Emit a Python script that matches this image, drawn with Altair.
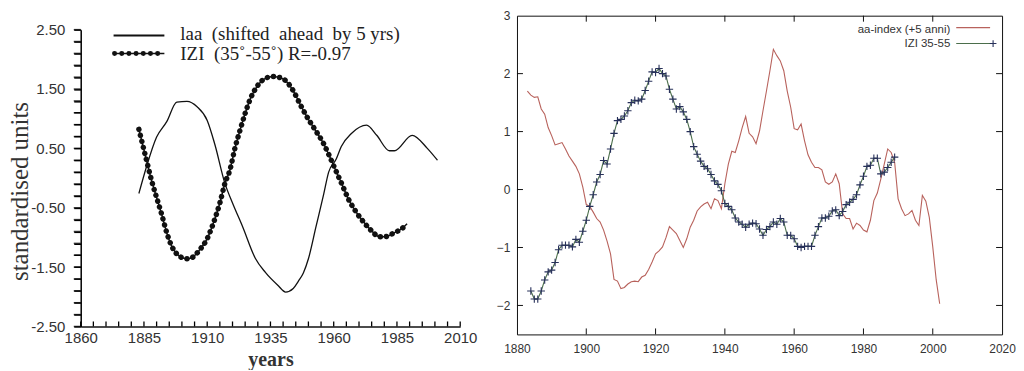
import altair as alt
import pandas as pd

# ---------------- LEFT PANEL DATA ----------------
LEFT_IZI_YEARS = [1883, 1886, 1888, 1890, 1892, 1894, 1896, 1898, 1900, 1902, 1904, 1907,
                  1910, 1912, 1915, 1917, 1919, 1921, 1923, 1925, 1927, 1930, 1933, 1936,
                  1938, 1941, 1944, 1947, 1950, 1953, 1956, 1958, 1961, 1963, 1966, 1969,
                  1972, 1975, 1978, 1980, 1984, 1987, 1989]
LEFT_IZI_VALUES = [0.82, 0.30, -0.04, -0.33, -0.61, -0.92, -1.15, -1.28, -1.34, -1.36, -1.34, -1.21,
                   -1.02, -0.81, -0.42, -0.09, 0.14, 0.51, 0.81, 1.09, 1.33, 1.56, 1.68, 1.71,
                   1.70, 1.64, 1.47, 1.22, 0.99, 0.79, 0.58, 0.40, 0.11, -0.08, -0.37, -0.58,
                   -0.75, -0.89, -0.99, -0.99, -0.92, -0.85, -0.77]
LEFT_LAA_YEARS = [1883, 1886, 1890, 1894, 1898, 1902, 1906, 1910, 1913, 1917, 1920, 1924,
                  1929, 1933, 1938, 1941, 1944, 1946, 1948, 1950, 1953, 1956, 1958, 1961,
                  1963, 1967, 1973, 1977, 1982, 1984, 1991, 1997, 2001]
LEFT_LAA_VALUES = [-0.26, 0.19, 0.69, 0.95, 1.28, 1.29, 1.20, 0.97, 0.57, -0.09, -0.42, -0.82,
                   -1.35, -1.59, -1.81, -1.92, -1.86, -1.74, -1.60, -1.36, -0.82, -0.28, 0.10, 0.32,
                   0.53, 0.75, 0.89, 0.72, 0.46, 0.46, 0.72, 0.50, 0.30]
LEFT_X_LABELS = [1860, 1885, 1910, 1935, 1960, 1985, 2010]
LEFT_X_MINOR = [1860, 1865, 1870, 1875, 1880, 1885, 1890, 1895, 1900, 1905, 1910, 1915, 1920,
                1925, 1930, 1935, 1940, 1945, 1950, 1955, 1960, 1965, 1970, 1975, 1980, 1985,
                1990, 1995, 2000, 2005, 2010]
LEFT_Y_TICKS = [-2.5, -2.3, -2.1, -1.9, -1.7, -1.5, -1.3, -1.1, -0.9, -0.7, -0.5, -0.3, -0.1,
                0.1, 0.3, 0.5, 0.7, 0.9, 1.1, 1.3, 1.5, 1.7, 1.9, 2.1, 2.3, 2.5]
LEFT_Y_LABELS = [-2.5, -1.5, -0.5, 0.5, 1.5, 2.5]
LEFT_LEGEND = ["laa \u00a0(shifted \u00a0ahead \u00a0by 5 yrs)", "IZI \u00a0(35\u02da-55\u02da) R=-0.97"]
LEFT_TITLE_X = "years"
LEFT_TITLE_Y = "standardised units"

# ---------------- RIGHT PANEL DATA ----------------
RIGHT_AA_YEARS = list(range(1883, 2003))
RIGHT_AA_VALUES = [1.70, 1.63, 1.59, 1.60, 1.39, 1.30, 1.07, 0.93, 0.77, 0.79,
                   0.81, 0.70, 0.58, 0.49, 0.40, 0.27, 0.04, -0.26, -0.29, -0.39,
                   -0.50, -0.56, -0.70, -0.89, -1.11, -1.55, -1.58, -1.71, -1.69, -1.63,
                   -1.59, -1.58, -1.59, -1.51, -1.48, -1.38, -1.25, -1.11, -1.06, -0.99,
                   -0.83, -0.64, -0.70, -0.76, -0.88, -1.00, -0.85, -0.65, -0.53, -0.37,
                   -0.30, -0.25, -0.22, -0.33, -0.16, -0.19, -0.33, 0.10, 0.44, 0.66,
                   0.64, 0.84, 1.07, 1.26, 0.97, 0.91, 0.79, 1.01, 1.36, 1.70,
                   2.05, 2.42, 2.31, 2.22, 2.05, 1.70, 1.42, 1.05, 1.03, 1.13,
                   0.84, 0.60, 0.47, 0.38, 0.38, 0.34, 0.13, 0.09, 0.13, 0.27,
                   0.10, -0.42, -0.50, -0.50, -0.68, -0.58, -0.62, -0.70, -0.73, -0.53,
                   -0.19, -0.06, 0.18, 0.44, 0.70, 0.64, 0.47, -0.16, -0.33, -0.45,
                   -0.42, -0.36, -0.53, -0.62, -0.10, -0.20, -0.48, -0.99, -1.56, -1.97]
RIGHT_IZI_YEARS = list(range(1884, 1990))
RIGHT_IZI_VALUES = [-1.75, -1.89, -1.89, -1.75, -1.56, -1.42, -1.39, -1.26, -1.04, -0.96,
                    -0.96, -0.96, -0.99, -0.86, -0.91, -0.72, -0.53, -0.29, -0.09, 0.13,
                    0.26, 0.50, 0.44, 0.70, 0.97, 1.19, 1.21, 1.27, 1.36, 1.50,
                    1.54, 1.53, 1.56, 1.71, 1.87, 2.03, 2.02, 2.09, 2.00, 1.96,
                    1.73, 1.56, 1.39, 1.43, 1.34, 1.21, 1.00, 0.74, 0.61, 0.49,
                    0.40, 0.36, 0.26, 0.15, 0.09, -0.02, -0.24, -0.29, -0.35, -0.49,
                    -0.56, -0.60, -0.65, -0.60, -0.58, -0.59, -0.68, -0.79, -0.69, -0.64,
                    -0.56, -0.60, -0.50, -0.56, -0.79, -0.79, -0.85, -0.98, -1.00, -0.98,
                    -0.98, -0.98, -0.79, -0.64, -0.49, -0.49, -0.46, -0.37, -0.35, -0.45,
                    -0.38, -0.26, -0.22, -0.17, -0.09, 0.08, 0.23, 0.40, 0.42, 0.54,
                    0.54, 0.27, 0.30, 0.38, 0.47, 0.56]
RIGHT_X_TICKS = [1880, 1900, 1920, 1940, 1960, 1980, 2000, 2020]
RIGHT_Y_TICKS = [-2, -1, 0, 1, 2, 3]
RIGHT_LEGEND = ["aa-index (+5 anni)", "IZI 35-55"]

# ---------------- STYLE ----------------
W1, H1 = 381, 312
TOP1 = 14                      # free band above the 2.50 line of the left panel
W2, H2 = 487, 320
INK = "#111111"
AA_RED = "#b8625c"
IZI_GREEN = "#4b6e4b"
IZI_CROSS = "#27305a"

# labels only on the x.50 ticks (tick values are multiples of 0.1), hyphen as minus sign
left_label_expr = ("abs(round(datum.value*10)) % 10 == 5 ? "
                   "((datum.value < 0 ? '-' : '') + format(abs(datum.value), '.2f')) : ''")

xL_scale = alt.Scale(domain=[1860, 2010], nice=False, zero=False)
yL_scale = alt.Scale(domain=[-2.5, 2.5], range=[H1, TOP1], nice=False, zero=False)
xL_axis = alt.Axis(
    values=LEFT_X_LABELS, format="d", ticks=False, tickSize=0, domain=True,
    domainColor=INK, domainWidth=1.5, grid=False, labelFont="Liberation Sans",
    labelFontSize=15, labelColor="#333", labelPadding=4, labelFlush=False,
    title=LEFT_TITLE_X, titleFont="Liberation Serif", titleFontSize=20,
    titleFontWeight="bold", titleColor="#333", titlePadding=4)
yL_axis = alt.Axis(
    values=LEFT_Y_TICKS, labelExpr=left_label_expr, ticks=True, tickSize=7,
    tickColor="#000000", tickWidth=1.5, tickOpacity=1, domain=True, domainColor="#000000",
    domainWidth=1.5, grid=False, labelFont="Liberation Sans",
    labelFontSize=15, labelColor="#333", labelPadding=9, labelFlush=False,
    title=LEFT_TITLE_Y, titleFont="Liberation Serif", titleFontSize=25,
    titleFontWeight="normal", titleColor="#333", titleX=-53, titleY=176,
    titleBaseline="alphabetic", titleAngle=270, zindex=1)
xL = alt.X("year:Q", scale=xL_scale, axis=xL_axis)
yL = alt.Y("v:Q", scale=yL_scale, axis=yL_axis)

left_laa_df = pd.DataFrame({"year": LEFT_LAA_YEARS, "v": LEFT_LAA_VALUES})
left_izi_df = pd.DataFrame({"year": LEFT_IZI_YEARS, "v": LEFT_IZI_VALUES})
left_ticks_df = pd.DataFrame({"year": LEFT_X_MINOR})
left_yticks_df = pd.DataFrame({"v": LEFT_Y_TICKS})

laa_line = alt.Chart(left_laa_df).mark_line(color=INK, strokeWidth=1.3, interpolate="monotone").encode(
    x=xL, y=yL)
izi_thin = alt.Chart(left_izi_df).mark_line(color=INK, strokeWidth=1.5, interpolate="monotone").encode(
    x=xL, y=yL)
izi_dots = alt.Chart(left_izi_df).mark_line(
    color="#111", strokeWidth=5.5, strokeDash=[0.01, 6.2], strokeCap="round",
    interpolate="monotone").encode(x=xL, y=yL)
left_xticks = alt.Chart(left_ticks_df).mark_rule(color="#000000", strokeWidth=1.3).encode(
    x=xL, y=alt.value(H1), y2=alt.value(H1 - 5))
left_yticks = alt.Chart(left_yticks_df).mark_tick(
    color="#000000", thickness=1.5, size=7, orient="horizontal").encode(
    y=yL, x=alt.value(-3.5))

leg_df1 = pd.DataFrame({"label": [LEFT_LEGEND[0]]})
leg_df2 = pd.DataFrame({"label": [LEFT_LEGEND[1]]})
leg_line1 = alt.Chart(leg_df1).mark_rule(color=INK, strokeWidth=2).encode(
    x=alt.value(33), x2=alt.value(84), y=alt.value(20))
leg_line2 = alt.Chart(leg_df2).mark_rule(color=INK, strokeWidth=1.5).encode(
    x=alt.value(33), x2=alt.value(84), y=alt.value(38))
leg_dots2 = alt.Chart(leg_df2).mark_rule(color="#111", strokeWidth=5, strokeDash=[0.01, 7.2],
                                         strokeCap="round").encode(
    x=alt.value(34), x2=alt.value(84), y=alt.value(38))
leg_text1 = alt.Chart(leg_df1).mark_text(align="left", baseline="middle", font="Liberation Serif",
                                         fontSize=19, color="#222").encode(
    x=alt.value(100), y=alt.value(18), text="label:N")
leg_text2 = alt.Chart(leg_df2).mark_text(align="left", baseline="middle", font="Liberation Serif",
                                         fontSize=19, color="#222").encode(
    x=alt.value(100), y=alt.value(38), text="label:N")

left = alt.layer(laa_line, izi_thin, izi_dots, left_xticks,
                 leg_line1, leg_line2, leg_dots2, leg_text1, leg_text2, left_yticks).properties(
    width=W1, height=H1, view=alt.ViewBackground(stroke=None))

# ---------------- RIGHT PANEL ----------------
xR_scale = alt.Scale(domain=[1880, 2020], nice=False, zero=False)
yR_scale = alt.Scale(domain=[-2.5, 3], nice=False, zero=False)
xR_axis = alt.Axis(
    values=RIGHT_X_TICKS, format="d", ticks=False, tickSize=0, domain=False, grid=False,
    labelFont="Liberation Sans", labelFontSize=12, labelColor="#333", labelPadding=9,
    labelFlush=False, title="")
yR_axis = alt.Axis(
    values=RIGHT_Y_TICKS, ticks=False, tickSize=0, domain=False, grid=False,
    labelFont="Liberation Sans", labelFontSize=12, labelColor="#333", labelPadding=7,
    labelFlush=False, title="")
xR = alt.X("year:Q", scale=xR_scale, axis=xR_axis)
yR = alt.Y("v:Q", scale=yR_scale, axis=yR_axis)

aa_df = pd.DataFrame({"year": RIGHT_AA_YEARS, "v": RIGHT_AA_VALUES})
izi_df = pd.DataFrame({"year": RIGHT_IZI_YEARS, "v": RIGHT_IZI_VALUES})
rx_in_df = pd.DataFrame({"year": RIGHT_X_TICKS[1:-1]})
ry_in_df = pd.DataFrame({"v": RIGHT_Y_TICKS[:-1]})

aa_line = alt.Chart(aa_df).mark_line(color=AA_RED, strokeWidth=1.1).encode(x=xR, y=yR)
izi_line = alt.Chart(izi_df).mark_line(color=IZI_GREEN, strokeWidth=1.1).encode(x=xR, y=yR)
izi_cross = alt.Chart(izi_df).mark_point(shape="M-1,0L1,0M0,-1L0,1", size=55, filled=False,
                                         color=IZI_CROSS, strokeWidth=1.1, opacity=1).encode(
    x=xR, y=yR)

tick_b = alt.Chart(rx_in_df).mark_rule(color=INK).encode(
    x=xR, y=alt.value(H2), y2=alt.value(H2 - 6))
tick_t = alt.Chart(rx_in_df).mark_rule(color=INK).encode(
    x=xR, y=alt.value(0), y2=alt.value(6))
tick_l = alt.Chart(ry_in_df).mark_rule(color=INK).encode(
    y=yR, x=alt.value(0), x2=alt.value(6))
tick_r = alt.Chart(ry_in_df).mark_rule(color=INK).encode(
    y=yR, x=alt.value(W2), x2=alt.value(W2 - 6))

rleg1 = pd.DataFrame({"label": [RIGHT_LEGEND[0]]})
rleg2 = pd.DataFrame({"label": [RIGHT_LEGEND[1]]})
rtext1 = alt.Chart(rleg1).mark_text(align="right", baseline="middle", font="Liberation Sans",
                                    fontSize=11.5, color="#333").encode(
    x=alt.value(435), y=alt.value(14), text="label:N")
rtext2 = alt.Chart(rleg2).mark_text(align="right", baseline="middle", font="Liberation Sans",
                                    fontSize=11.5, color="#333").encode(
    x=alt.value(435), y=alt.value(28), text="label:N")
rline1 = alt.Chart(rleg1).mark_rule(color=AA_RED, strokeWidth=1.3).encode(
    x=alt.value(441), x2=alt.value(475), y=alt.value(12))
rline2 = alt.Chart(rleg2).mark_rule(color=IZI_GREEN, strokeWidth=1.1).encode(
    x=alt.value(441), x2=alt.value(478), y=alt.value(28))
rcross = alt.Chart(rleg2).mark_point(shape="M-1,0L1,0M0,-1L0,1", size=45, filled=False,
                                     color=IZI_CROSS, strokeWidth=1.1, opacity=1).encode(
    x=alt.value(478), y=alt.value(28))

right = alt.layer(aa_line, izi_line, izi_cross, tick_b, tick_t, tick_l, tick_r,
                  rtext1, rtext2, rline1, rline2, rcross).properties(
    width=W2, height=H2, view=alt.ViewBackground(stroke=INK, strokeWidth=1))

chart = alt.hconcat(left, right, spacing=18).properties(padding=0).configure_view(stroke=None)

chart.save("out.html", embed_options={"renderer": "svg", "actions": False})
